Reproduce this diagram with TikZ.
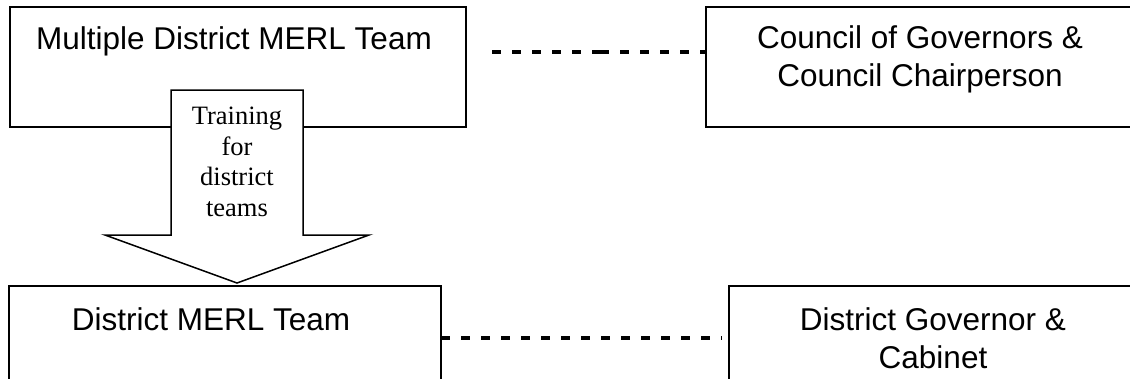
\documentclass[tikz,border=0pt]{standalone}
\usepackage{fontspec}
\setmainfont{Liberation Sans}
\newfontfamily\serifTNR{Liberation Serif}
\begin{document}
\begin{tikzpicture}[x=1pt,y=-1pt,
  box/.style={draw, line width=2pt, rectangle, inner sep=0pt, outer sep=0pt},
  lbl/.style={font=\fontsize{31.5}{38}\selectfont, align=center, inner sep=0pt},
  dline/.style={line width=4pt, dash pattern=on 9pt off 11pt},
  arrowshape/.style={draw, fill=white, line width=1.5pt, line join=miter},
  trn/.style={font=\serifTNR\fontsize{26.5}{30.7}\selectfont, align=center, inner sep=0pt}]
\useasboundingbox (0,0) rectangle (1130,378);
\clip (0,0) rectangle (1130,378);
% boxes
\node[box, minimum width=456pt, minimum height=120pt, anchor=north west] (A) at (10,7) {};
\node[box, minimum width=430pt, minimum height=120pt, anchor=north west] (B) at (706,7) {};
\node[box, minimum width=432pt, minimum height=130pt, anchor=north west] (C) at (9,286) {};
\node[box, minimum width=420pt, minimum height=130pt, anchor=north west] (D) at (729,286) {};
% labels
\node[lbl, anchor=base] (tA) at (234,49) {Multiple District MERL Team};
\node[lbl] (tB) at (920,59) {Council of Governors \&\\Council Chairperson};
\node[lbl, anchor=base] (tC) at (211,330) {District MERL Team};
\node[lbl] (tD) at (933,338) {District Governor \&\\Cabinet};
% block arrow
\coordinate (tip) at (237,283);
\draw[arrowshape] (171,90) -- (303,90) -- (303,235) -- (369,235) -- (tip) -- (105,235) -- (171,235) -- cycle;
\node[trn] (T) at (237,162) {Training\\for\\district\\teams};
% dashed connectors
\coordinate (s) at (492,52);
\coordinate (m) at (600,52);
\draw[dline] (s) -- (m);
\draw[dline] (m) -- (m -| B.west);
\coordinate (e) at (722,338);
\draw[dline] (e -| C.east) -- (e);
\end{tikzpicture}
\end{document}
